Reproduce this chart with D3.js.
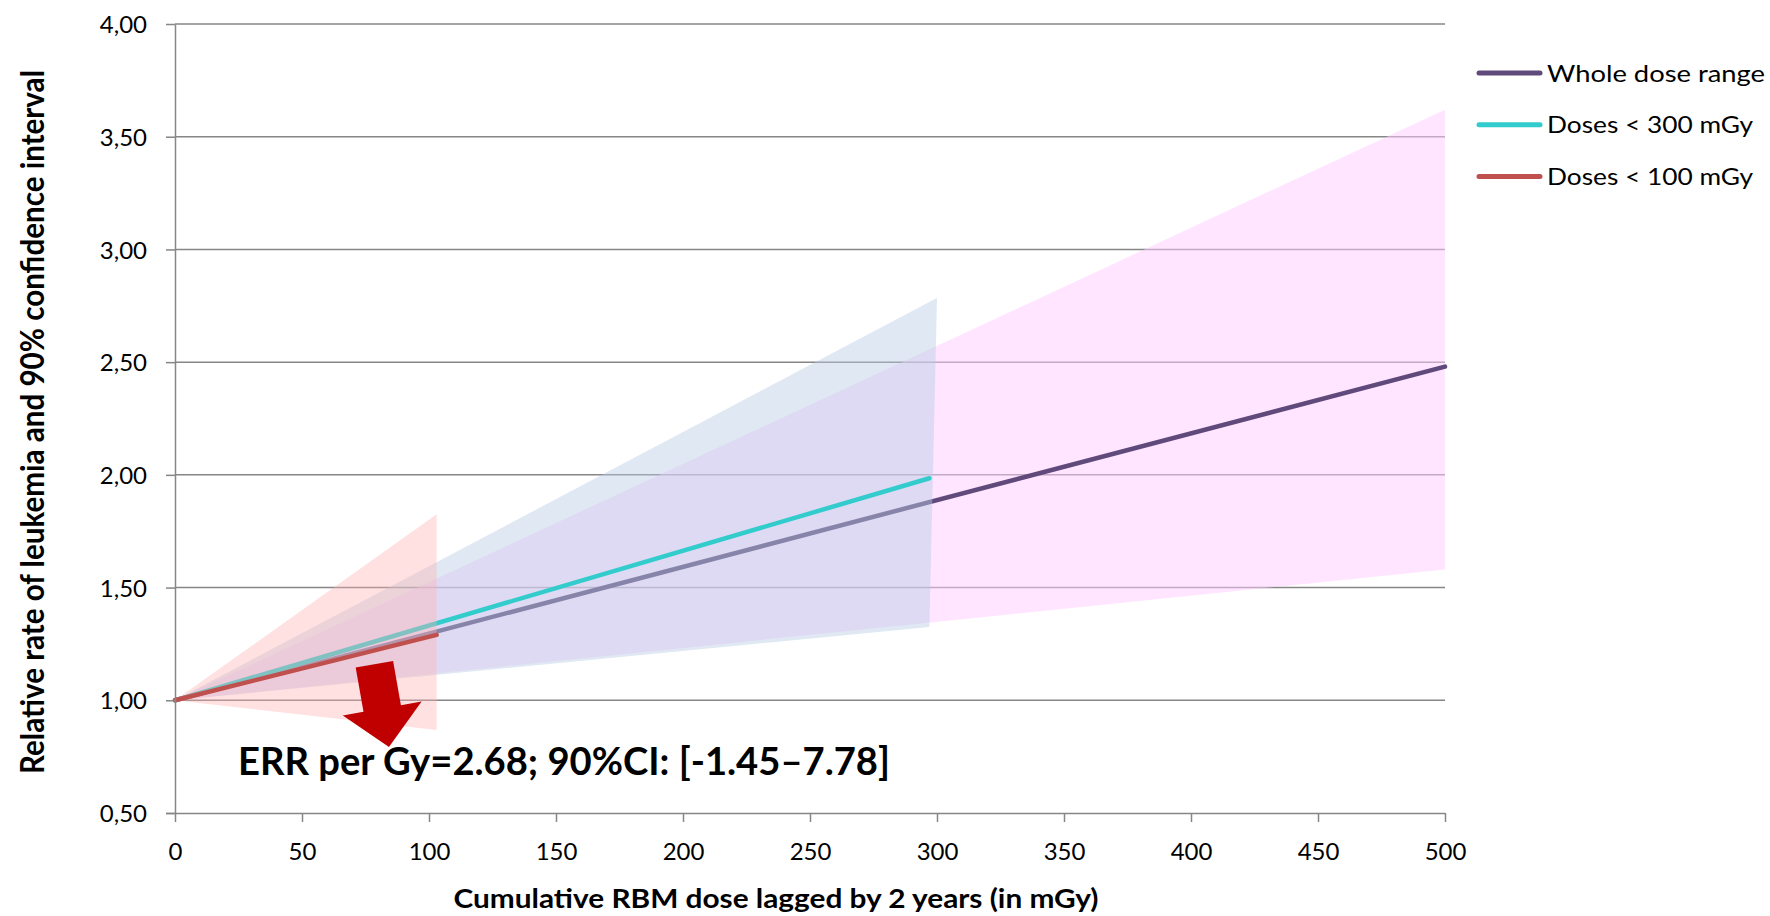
<!DOCTYPE html>
<html>
<head>
<meta charset="utf-8">
<script src="https://cdn.jsdelivr.net/npm/d3@7"></script>
<style>
  body { margin: 0; background: #fff; }
  svg { display: block; font-family: Lato, Carlito, 'Open Sans', sans-serif; }
  .axis path, .axis line { stroke: #868686; stroke-width: 1.5px; }
  .axis text { font-size: 24px; fill: #000; font-family: Lato, sans-serif; }
  .grid line { stroke: #868686; stroke-width: 1.5px; }
  .line { fill: none; stroke-width: 4.5px; stroke-linecap: round; }
</style>
</head>
<body>
<svg id="wrapper" width="1770" height="916"></svg>
<script>
/*jshint esversion: 6 */

// axis ticks
const doseTicks = [0, 50, 100, 150, 200, 250, 300, 350, 400, 450, 500];
const rateTicks = [0.5, 1.0, 1.5, 2.0, 2.5, 3.0, 3.5, 4.0];

// series names (legend order)
const seriesNames = ['Whole dose range', 'Doses < 300 mGy', 'Doses < 100 mGy'];

// [dose mGy, relative rate]
const wholeLine  = [[0, 1.0], [500, 2.48]];
const wholeUpper = [[0, 1.0], [500, 3.62]];
const wholeLower = [[0, 1.0], [500, 1.58]];

const below300Line  = [[0, 1.0], [297, 1.985]];
const below300Upper = [[0, 1.0], [300, 2.785]];
const below300Lower = [[0, 1.0], [297, 1.325]];

const below100Line  = [[0, 1.0], [103, 1.29]];
const below100Upper = [[0, 1.0], [103, 1.825]];
const below100Lower = [[0, 1.0], [103, 0.868]];

// annotation
const annotationText = 'ERR per Gy=2.68; 90%CI: [-1.45\u20137.78]';
const annotationAt = [24.8, 0.67];
const arrowAt = [78.5, 1.16];

const xTitle = 'Cumulative RBM dose lagged by 2 years (in mGy)';
const yTitle = 'Relative rate of leukemia and 90% confidence interval';

const colWhole = '#604a7b';
const col300 = '#33cccc';
const col100 = '#c0504d';

const margin = {top: 24, right: 325, bottom: 103, left: 175};

function chart() {
    let svg = d3.select('#wrapper');
    let width = +svg.attr('width') - margin.left - margin.right;
    let height = +svg.attr('height') - margin.top - margin.bottom;

    let g = svg.append('g')
      .attr('transform', 'translate(' + margin.left + ',' + margin.top + ')');

    // set ranges
    let x = d3.scaleLinear().domain([0, 500]).range([0, width]);
    let y = d3.scaleLinear().domain([0.5, 4]).range([height, 0]);

    // horizontal gridlines
    g.append('g')
      .attr('class', 'grid')
      .selectAll('line')
      .data(rateTicks.slice(1))
      .enter().append('line')
      .attr('x1', 0)
      .attr('x2', width)
      .attr('y1', d => y(d))
      .attr('y2', d => y(d));

    let line = d3.line()
      .x(d => x(d[0]))
      .y(d => y(d[1]));

    let band = (upper, lower) => line(upper.concat(lower.slice().reverse())) + 'Z';

    // whole dose range band + line
    g.append('path')
      .attr('d', band(wholeUpper, wholeLower))
      .attr('fill', '#ffccff')
      .attr('fill-opacity', 0.5);
    g.append('path')
      .datum(wholeLine)
      .attr('class', 'line')
      .attr('stroke', colWhole)
      .attr('d', line);

    // doses < 300 band + line
    g.append('path')
      .attr('d', band(below300Upper, below300Lower))
      .attr('fill', '#b8cce4')
      .attr('fill-opacity', 0.45);
    g.append('path')
      .datum(below300Line)
      .attr('class', 'line')
      .attr('stroke', col300)
      .attr('d', line);

    // doses < 100 band + line
    g.append('path')
      .attr('d', band(below100Upper, below100Lower))
      .attr('fill', '#ffb0b0')
      .attr('fill-opacity', 0.38);
    g.append('path')
      .datum(below100Line)
      .attr('class', 'line')
      .attr('stroke', col100)
      .attr('d', line);

    // draw x-axis
    let xAxis = g.append('g')
      .attr('class', 'axis axis-x')
      .attr('transform', 'translate(0,' + height + ')')
      .call(d3.axisBottom(x).tickValues(doseTicks).tickSize(9).tickSizeOuter(0).tickPadding(21));
    xAxis.select('.domain').attr('d', 'M-9,0.5H' + width);

    // draw y-axis
    g.append('g')
      .attr('class', 'axis axis-y')
      .call(d3.axisLeft(y).tickValues(rateTicks).tickSize(9).tickSizeOuter(0).tickPadding(19)
        .tickFormat(d => d3.format('.2f')(d).replace('.', ',')))
      .selectAll('text')
      .attr('dy', '0.36em');

    // axis titles
    svg.append('text')
      .attr('x', 776)
      .attr('y', 908)
      .attr('text-anchor', 'middle')
      .attr('textLength', 645)
      .attr('lengthAdjust', 'spacingAndGlyphs')
      .style('font-size', '26px')
      .style('font-weight', 'bold')
      .text(xTitle);

    svg.append('text')
      .attr('transform', 'translate(44,422) rotate(-90)')
      .attr('text-anchor', 'middle')
      .attr('textLength', 704)
      .attr('lengthAdjust', 'spacingAndGlyphs')
      .style('font-size', '32px')
      .style('font-weight', 'bold')
      .text(yTitle);

    // arrow
    const shaftW = 19, shaftL = 45, headW = 40, tipL = 84;
    let arrowPts = [[-shaftW, 0], [shaftW, 0], [shaftW, shaftL], [headW, shaftL],
                    [0, tipL], [-headW, shaftL], [-shaftW, shaftL]];
    g.append('path')
      .attr('transform', 'translate(' + x(arrowAt[0]) + ',' + y(arrowAt[1]) + ') rotate(-10)')
      .attr('d', d3.line()(arrowPts) + 'Z')
      .attr('fill', '#c00000');

    g.append('text')
      .attr('x', x(annotationAt[0]))
      .attr('y', y(annotationAt[1]))
      .attr('textLength', 652)
      .attr('lengthAdjust', 'spacingAndGlyphs')
      .style('font-size', '38px')
      .style('font-weight', 'bold')
      .text(annotationText);

    // legend
    const legendColors = [colWhole, col300, col100];
    const legendLengths = [218, 206, 206];
    let legend = svg.append('g')
      .attr('class', 'legend')
      .attr('transform', 'translate(1479,73)');
    seriesNames.forEach((name, i) => {
      legend.append('line')
        .attr('x1', 0)
        .attr('x2', 61)
        .attr('y1', i * 51.7)
        .attr('y2', i * 51.7)
        .attr('stroke', legendColors[i])
        .attr('stroke-width', 5)
        .attr('stroke-linecap', 'round');
      legend.append('text')
        .attr('x', 68)
        .attr('y', i * 51.7)
        .attr('dy', '0.36em')
        .attr('textLength', legendLengths[i])
        .attr('lengthAdjust', 'spacingAndGlyphs')
        .style('font-size', '24px')
        .text(name);
    });
}

chart();
</script>
</body>
</html>
